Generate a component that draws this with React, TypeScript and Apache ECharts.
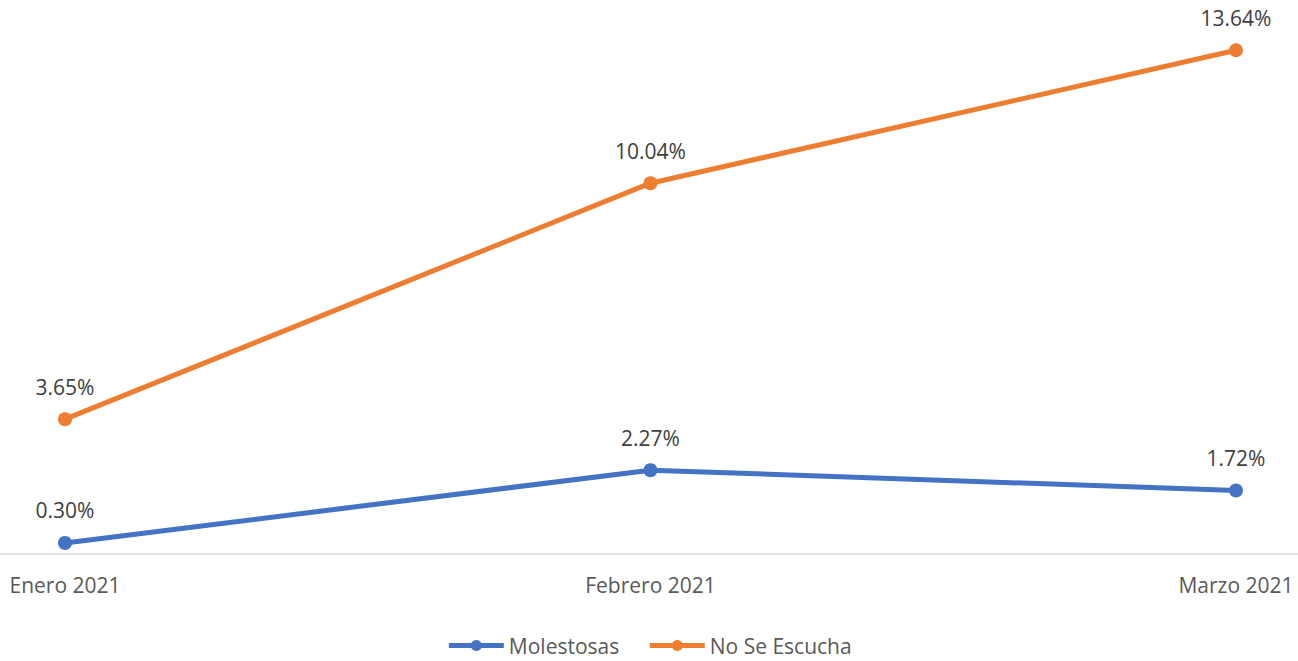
import React, { useEffect, useRef } from "react";
import * as echarts from "echarts";

const categories = ["Enero 2021", "Febrero 2021", "Marzo 2021"];
const molestosas = [0.3, 2.27, 1.72];
const noSeEscucha = [3.65, 10.04, 13.64];
const seriesNames = ["Molestosas", "No Se Escucha"];
const colors = ["#4472C4", "#ED7D31"];

export default function App() {
  const ref = useRef<HTMLDivElement>(null);
  useEffect(() => {
    if (!ref.current) return;
    document.body.style.margin = "0";
    const chart = echarts.init(ref.current, null, { renderer: "svg" });
    const font = "'Open Sans', 'Noto Sans', sans-serif";
    const mk = (name: string, data: number[], color: string) => ({
      name,
      type: "line",
      data,
      color,
      symbol: "circle",
      symbolSize: 14,
      lineStyle: { width: 5, color },
      itemStyle: { color },
      z: 3,
      label: {
        show: true,
        position: "top",
        distance: 15,
        formatter: (p: any) => p.value.toFixed(2) + "%",
        color: "#404040",
        fontSize: 21,
        fontFamily: font,
      },
    });
    chart.setOption({
      animation: false,
      legend: {
        bottom: 0,
        left: "center",
        itemWidth: 55,
        itemHeight: 14,
        itemGap: 28,
        lineStyle: { width: 5 },
        textStyle: { color: "#595959", fontSize: 21, fontFamily: font },
        data: seriesNames,
      },
      grid: [
        { left: 65, right: 62, top: 0, bottom: 107, containLabel: false },
        { left: 0, right: 0, top: 0, bottom: 107, containLabel: false },
      ],
      xAxis: [
        {
          type: "category",
          data: categories,
          boundaryGap: false,
          axisLine: { show: false },
          axisTick: { show: false },
          axisLabel: { color: "#595959", fontSize: 21, fontFamily: font, margin: 20 },
        },
        {
          gridIndex: 1,
          type: "category",
          data: [""],
          axisLine: { show: true, lineStyle: { color: "#d9d9d9", width: 1.5 } },
          axisTick: { show: false },
          axisLabel: { show: false },
          z: 0,
        },
      ],
      yAxis: [
        { type: "value", min: 0, max: 15, show: false, splitLine: { show: false } },
        { gridIndex: 1, type: "value", min: 0, max: 15, show: false, splitLine: { show: false } },
      ],
      series: [mk(seriesNames[0], molestosas, colors[0]), mk(seriesNames[1], noSeEscucha, colors[1])],
    });
    return () => chart.dispose();
  }, []);
  return <div ref={ref} style={{ width: 1298, height: 661 }} />;
}
